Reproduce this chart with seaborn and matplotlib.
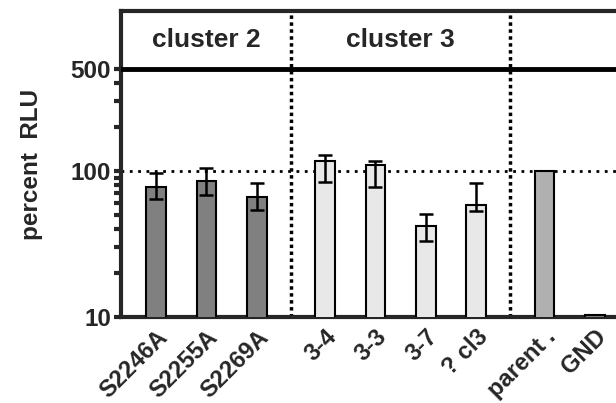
import numpy as np
import pandas as pd
import seaborn as sns
import matplotlib
matplotlib.use("Agg")
import matplotlib.pyplot as plt

# Data (percent RLU, log axis)
samples = ["S2246A", "S2255A", "S2269A", "3-4", "3-3", "3-7", "? cl3", "parent .", "GND"]
groups = ["cluster 2"] * 3 + ["cluster 3"] * 4 + ["control"] * 2
pct_rlu = [78, 85, 66, 117, 110, 42, 58, 100, 10.3]
err_low = [64, 68, 54, 84, 77, 33, 53, np.nan, np.nan]
err_high = [97, 105, 83, 129, 117, 51, 82, np.nan, np.nan]
bar_colors = ["#808080"] * 3 + ["#e8e8e8"] * 4 + ["#b0b0b0", "#808080"]

# Plot style
sns.set_style("ticks")
plt.rcParams["font.family"] = ["Liberation Sans", "DejaVu Sans"]
plt.rcParams["font.weight"] = "bold"

# x slots: one per sample plus a small gap between groups
group_names = list(dict.fromkeys(groups))
gap = 0.35
pos = [i + gap * group_names.index(g) for i, g in enumerate(groups)]

df = pd.DataFrame({"pos": pos, "sample": samples, "group": groups, "pct": pct_rlu})

fig = plt.figure(figsize=(6.16, 4.03), dpi=100)
ax = fig.add_axes([0.196, 0.2134, 0.804, 0.7593])
ax.set_yscale("log")

sns.barplot(data=df, x="pos", y="pct", hue="sample", palette=bar_colors,
            native_scale=True, dodge=False, width=0.39, legend=False,
            edgecolor="black", linewidth=1.5, errorbar=None, zorder=3, ax=ax)

# Error bars
lo = df["pct"] - np.array(err_low)
hi = np.array(err_high) - df["pct"]
ax.errorbar(df["pos"], df["pct"], yerr=[lo, hi], fmt="none", ecolor="black",
            elinewidth=1.8, capsize=5, capthick=1.8, zorder=4)

# Axis limits and ticks
ax.set_xlim(-0.698, 9.12)
ax.set_ylim(10, 1240)
ax.set_yticks([10, 100, 500])
ax.set_yticklabels(["10", "100", "500"], fontsize=17.5, fontweight="bold")
minor = [k * 10 ** d for d in (1, 2) for k in range(2, 10) if k * 10 ** d < 500]
ax.set_yticks(minor, minor=True)
ax.yaxis.set_minor_formatter(matplotlib.ticker.NullFormatter())
ax.tick_params(axis="y", which="major", length=5, width=3, pad=2)
ax.tick_params(axis="y", which="minor", length=5, width=3)
ax.set_xticks(df["pos"])
ax.set_xticklabels(samples, rotation=45, ha="right", rotation_mode="anchor",
                   fontsize=17, fontweight="bold")
ax.tick_params(axis="x", length=0, pad=6)
ax.set_xlabel("")
ax.set_ylabel("percent  RLU", fontsize=17.5, fontweight="bold", labelpad=20)

for side in ["left", "bottom", "top"]:
    ax.spines[side].set_linewidth(3)
ax.spines["right"].set_visible(False)

# Reference line at 100 %, header line at 500 and group separators
ax.axhline(100, color="black", ls=(0, (1, 2)), lw=2, zorder=1)
ax.axhline(500, color="black", lw=3.5, zorder=5)
ends = [i for i in range(len(groups) - 1) if groups[i] != groups[i + 1]]
for i in ends:
    ax.axvline((pos[i] + pos[i + 1]) / 2, color="black", ls=(0, (1, 1)), lw=2.5, zorder=2)

# Group titles in the header band
for g in group_names[:2]:
    centre = np.mean([p for p, gg in zip(pos, groups) if gg == g])
    ax.text(centre, np.sqrt(500 * 1240), g, ha="center", va="center",
            fontsize=19, fontweight="bold")

plt.savefig("out.png", dpi=100)
